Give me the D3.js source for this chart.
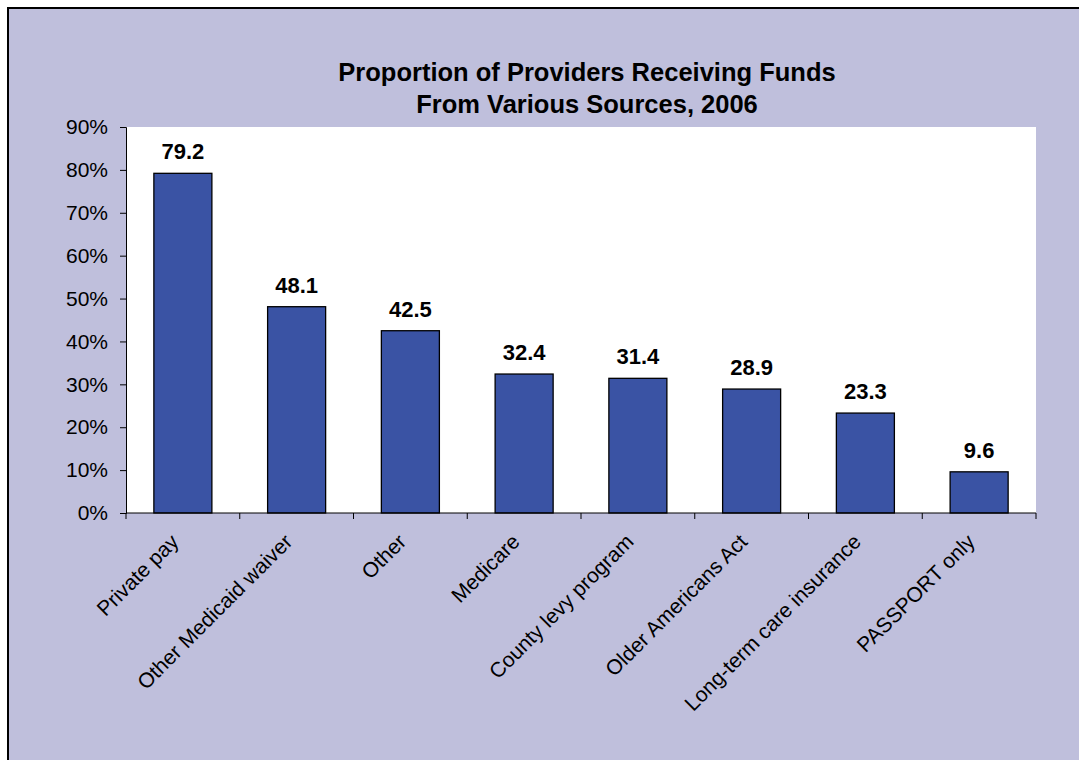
<!DOCTYPE html>
<html>
<head>
<meta charset="utf-8">
<script src="https://cdn.jsdelivr.net/npm/d3@7"></script>
<style>
    body { margin: 0; background: #fff; }
    svg { display: block; font-family: "Liberation Sans", Arial, sans-serif; }
</style>
</head>
<body>
<svg id="chart" width="1079" height="760"></svg>
<script>
// data
const categories = ["Private pay", "Other Medicaid waiver", "Other", "Medicare",
    "County levy program", "Older Americans Act", "Long-term care insurance", "PASSPORT only"];
const values = [79.2, 48.1, 42.5, 32.4, 31.4, 28.9, 23.3, 9.6];
const yTicks = [0, 10, 20, 30, 40, 50, 60, 70, 80, 90];
const titleLines = ["Proportion of Providers Receiving Funds", "From Various Sources, 2006"];

const svg = d3.select("#chart");

// outer frame
svg.append("rect")
    .attr("x", 8).attr("y", 8)
    .attr("width", 1090).attr("height", 780)
    .attr("fill", "#bfbfdc")
    .attr("stroke", "#000")
    .attr("stroke-width", 2);

const margin = { top: 127, left: 126 };
const width = 910, height = 386;

const g = svg.append("g")
    .attr("transform", `translate(${margin.left}, ${margin.top})`);

// plot area
g.append("rect")
    .attr("width", width).attr("height", height)
    .attr("fill", "#fff");

const x = d3.scaleBand()
    .domain(categories)
    .range([0, width])
    .paddingInner(0.49)
    .paddingOuter(0.245);

const y = d3.scaleLinear()
    .domain([0, 90])
    .range([height, 0]);

// bars
g.selectAll(".bar")
    .data(values)
    .enter()
    .append("rect")
    .attr("class", "bar")
    .attr("x", (d, i) => x(categories[i]))
    .attr("y", d => y(d))
    .attr("width", x.bandwidth())
    .attr("height", d => height - y(d))
    .attr("fill", "#3a53a4")
    .attr("stroke", "#000")
    .attr("stroke-width", 1.3);

// value labels
g.selectAll(".val")
    .data(values)
    .enter()
    .append("text")
    .attr("class", "val")
    .attr("x", (d, i) => x(categories[i]) + x.bandwidth() / 2)
    .attr("y", d => y(d) - 14)
    .attr("text-anchor", "middle")
    .style("font-size", "22px")
    .style("font-weight", "bold")
    .text(d => d.toFixed(1));

// y axis
const yAxis = d3.axisLeft(y)
    .tickValues(yTicks)
    .tickSize(6)
    .tickPadding(12)
    .tickFormat(d => d + "%");

const yg = g.append("g").call(yAxis);
yg.selectAll("text").style("font-size", "21px").attr("fill", "#000");
yg.selectAll("line, path").attr("stroke", "#000");

// x axis: line plus ticks at category boundaries
const step = x.step();
const boundaries = d3.range(categories.length + 1).map(i => i * step);

g.append("line")
    .attr("x1", 0).attr("x2", width)
    .attr("y1", height).attr("y2", height)
    .attr("stroke", "#000");

g.selectAll(".xtick")
    .data(boundaries)
    .enter()
    .append("line")
    .attr("class", "xtick")
    .attr("x1", d => d).attr("x2", d => d)
    .attr("y1", height).attr("y2", height + 6)
    .attr("stroke", "#000");

// category labels
g.selectAll(".cat")
    .data(categories)
    .enter()
    .append("text")
    .attr("class", "cat")
    .attr("transform", d => `translate(${x(d) + x.bandwidth() / 2 - 3}, ${height + 30}) rotate(-45)`)
    .attr("text-anchor", "end")
    .style("font-size", "21px")
    .text(d => d);

// title
svg.selectAll(".title")
    .data(titleLines)
    .enter()
    .append("text")
    .attr("class", "title")
    .attr("x", 587)
    .attr("y", (d, i) => 81 + i * 32)
    .attr("text-anchor", "middle")
    .style("font-size", "25.5px")
    .style("font-weight", "bold")
    .text(d => d);
</script>
</body>
</html>
